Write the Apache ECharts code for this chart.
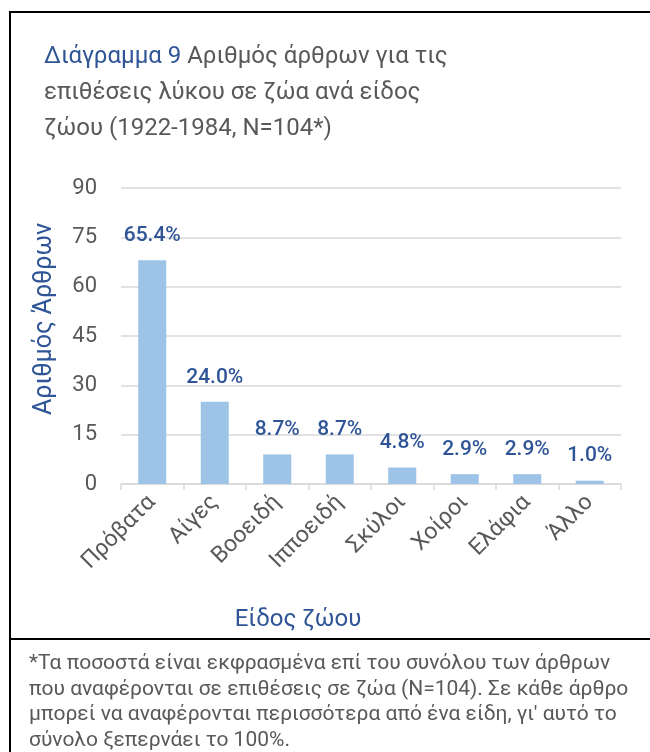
<!DOCTYPE html>
<html>
<head>
<meta charset="utf-8">
<script src="https://cdn.jsdelivr.net/npm/echarts@6/dist/echarts.min.js"></script>
<style>
html,body{margin:0;padding:0;background:#fff;}
#chart{width:650px;height:752px;}
</style>
</head>
<body>
<div id="chart"></div>
<script>
const categories = ['Πρόβατα','Αίγες','Βοοειδή','Ιπποειδή','Σκύλοι','Χοίροι','Ελάφια','Άλλο'];
const counts = [68, 25, 9, 9, 5, 3, 3, 1];
const percentLabels = ['65.4%','24.0%','8.7%','8.7%','4.8%','2.9%','2.9%','1.0%'];
const yTicks = [0, 15, 30, 45, 60, 75, 90];

const FONT = 'Roboto';
const BLUE = '#2f5597';
const GRAY = '#595959';

const chart = echarts.init(document.getElementById('chart'), null, {renderer: 'canvas'});
chart.setOption({
  backgroundColor: '#ffffff',
  animation: false,
  title: {
    left: 39, top: 34,
    text: '{a|Διάγραμμα 9} {b|Αριθμός άρθρων για τις}\n{b|επιθέσεις λύκου σε ζώα ανά είδος}\n{b|ζώου (1922-1984, N=104*)}',
    textStyle: {
      fontFamily: FONT, fontSize: 24, lineHeight: 36, fontWeight: 'normal',
      rich: {
        a: {color: BLUE, fontFamily: FONT, fontSize: 24, lineHeight: 36, fontWeight: 'normal'},
        b: {color: GRAY, fontFamily: FONT, fontSize: 24, lineHeight: 36, fontWeight: 'normal'}
      }
    }
  },
  grid: {left: 121, right: 29, top: 188, bottom: 268, containLabel: false},
  xAxis: {
    type: 'category',
    data: categories,
    name: 'Είδος ζώου',
    nameLocation: 'middle',
    nameGap: 124,
    nameTextStyle: {color: BLUE, fontFamily: FONT, fontSize: 24, padding: [0, 146, 0, 0]},
    axisLine: {show: true, lineStyle: {color: '#d9d9d9', width: 1.5}},
    axisTick: {show: true, alignWithLabel: false, length: 6, lineStyle: {color: '#d9d9d9', width: 1.5}},
    axisLabel: {rotate: 45, color: GRAY, fontFamily: FONT, fontSize: 23, margin: 15, interval: 0}
  },
  yAxis: {
    type: 'value',
    min: yTicks[0], max: yTicks[yTicks.length - 1], interval: yTicks[1] - yTicks[0],
    name: 'Αριθμός Άρθρων',
    nameLocation: 'middle',
    nameGap: 64,
    nameRotate: 90,
    nameTextStyle: {color: BLUE, fontFamily: FONT, fontSize: 25, padding: [0, 0, 0, 34]},
    axisLine: {show: false},
    axisTick: {show: false},
    axisLabel: {color: GRAY, fontFamily: FONT, fontSize: 22, margin: 24},
    splitLine: {lineStyle: {color: '#d9d9d9', width: 1.5}}
  },
  series: [{
    type: 'bar',
    data: counts,
    barWidth: 28,
    itemStyle: {color: '#9dc3e6'},
    label: {
      show: true, position: 'top', distance: 14,
      color: BLUE, fontFamily: FONT, fontSize: 21, fontWeight: 500,
      formatter: p => percentLabels[p.dataIndex]
    }
  }],
  graphic: [
    {type: 'rect', shape: {x: 10, y: 12, width: 660, height: 760}, style: {fill: 'none', stroke: '#000', lineWidth: 2}, silent: true},
    {type: 'line', shape: {x1: 10, y1: 639, x2: 660, y2: 639}, style: {stroke: '#000', lineWidth: 2}, silent: true},
    {type: 'text', left: 29, top: 651,
     style: {
       text: '*Τα ποσοστά είναι εκφρασμένα επί του συνόλου των άρθρων\nπου αναφέρονται σε επιθέσεις σε ζώα (N=104). Σε κάθε άρθρο\nμπορεί να αναφέρονται περισσότερα από ένα είδη, γι\' αυτό το\nσύνολο ξεπερνάει το 100%.',
       fill: GRAY, font: '21px ' + FONT, lineHeight: 25.5
     }}
  ]
});
</script>
</body>
</html>
